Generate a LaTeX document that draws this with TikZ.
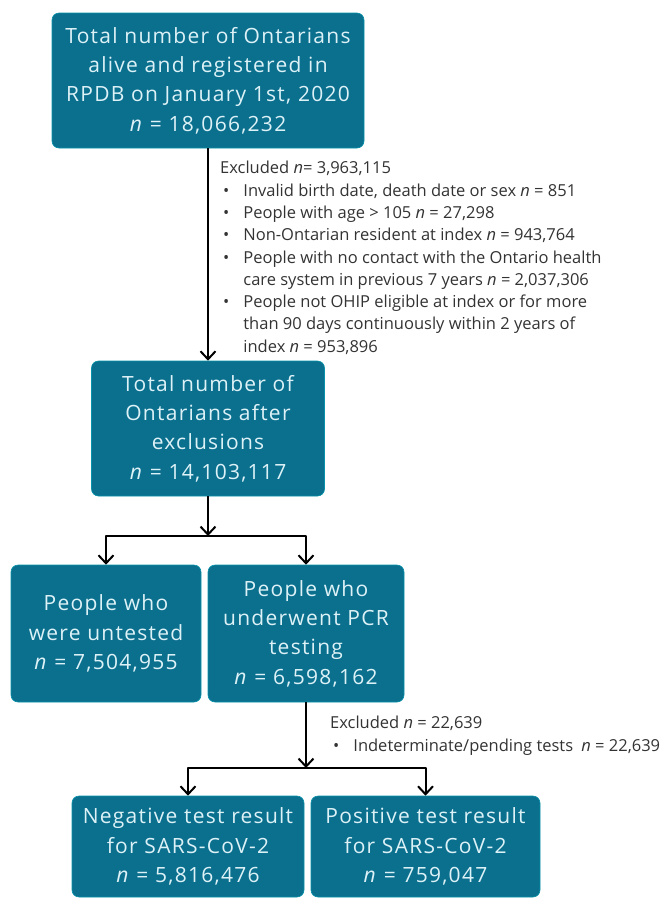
\documentclass[tikz,border=0pt]{standalone}
\usepackage{fontspec}
\setmainfont{Open Sans}
\newfontfamily\boxfont[LetterSpace=6]{Open Sans}
\usetikzlibrary{arrows.meta,positioning}
\definecolor{boxteal}{HTML}{0B6F8E}
\definecolor{boxtext}{HTML}{DDF2F7}
\definecolor{notegray}{HTML}{333333}

\begin{document}
\begin{tikzpicture}[x=1pt, y=-1pt, >={Straight Barb[length=8pt,width=15pt,line width=2pt]}, line join=round,
  flowbox/.style={rectangle, rounded corners=7pt, fill=boxteal, draw=boxteal!75!cyan,
    line width=0.6pt, text=boxtext, align=center, inner sep=0pt,
    font=\boxfont\fontsize{21}{29.3}\selectfont},
  notes/.style={anchor=north west, align=left, inner sep=0pt, text=notegray,
    font=\fontsize{16.5}{22.3}\selectfont},
  flow/.style={line width=2pt, draw=black}]
  \useasboundingbox (0,0) rectangle (663,898);
  \node[flowbox, minimum width=312pt, minimum height=135pt] (all) at (208,80.5)
    {Total number of Ontarians\\alive and registered in\\RPDB on January 1st, 2020\\\textit{n} = 18,066,232};
  \node[flowbox, minimum width=233pt, minimum height=135pt] (after) at (208,428.5)
    {Total number of\\Ontarians after\\exclusions\\\textit{n} = 14,103,117};
  \node[flowbox, minimum width=190pt, minimum height=137pt] (untested) at (106,633.5)
    {People who\\were untested\\\textit{n} = 7,504,955};
  \node[flowbox, minimum width=196pt, minimum height=137pt] (tested) at (306,633.5)
    {People who\\underwent PCR\\testing\\\textit{n} = 6,598,162};
  \node[flowbox, minimum width=232pt, minimum height=101pt] (negative) at (188,846.5)
    {Negative test result\\for SARS-CoV-2\\\textit{n} = 5,816,476};
  \node[flowbox, minimum width=229pt, minimum height=101pt] (positive) at (425.5,846.5)
    {Positive test result\\for SARS-CoV-2\\\textit{n} = 759,047};
  \node[notes] (excl1) at (220,158) {\begin{tabular}{@{\hspace{3pt}}l@{\hspace{14pt}}l@{}}
    \multicolumn{2}{@{}l@{}}{Excluded \textit{n}= 3,963,115}\\
    \textbullet & Invalid birth date, death date or sex \textit{n} = 851\\
    \textbullet & People with age > 105 \textit{n} = 27,298\\
    \textbullet & Non-Ontarian resident at index \textit{n} = 943,764\\
    \textbullet & People with no contact with the Ontario health\\
                & care system in previous 7 years \textit{n} = 2,037,306\\
    \textbullet & People not OHIP eligible at index or for more\\
                & than 90 days continuously within 2 years of\\
                & index \textit{n} = 953,896
  \end{tabular}};
  \node[notes] (excl2) at (330,713) {\begin{tabular}{@{\hspace{3pt}}l@{\hspace{14pt}}l@{}}
    \multicolumn{2}{@{}l@{}}{Excluded \textit{n} = 22,639}\\
    \textbullet & Indeterminate/pending tests\enspace\textit{n} = 22,639
  \end{tabular}};
  \coordinate (split1) at (208,536);
  \coordinate (split2) at (306,768);
  \draw[flow,->] (all) -- (after);
  \draw[flow,->] (after) -- (split1);
  \draw[flow,->] (split1) -| (untested);
  \draw[flow,->] (split1) -| (tested);
  \draw[flow,->] (tested) -- (split2);
  \draw[flow,->] (split2) -| (negative);
  \draw[flow,->] (split2) -| (positive);
\end{tikzpicture}
\end{document}
